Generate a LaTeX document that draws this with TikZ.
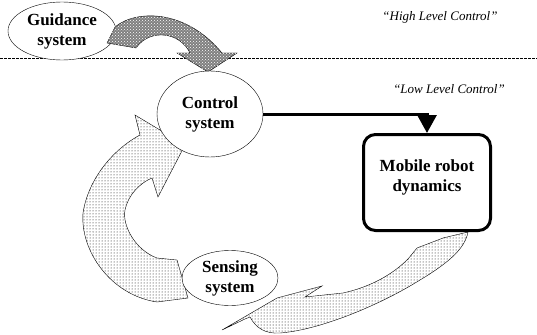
\documentclass[tikz,border=0pt]{standalone}
\usepackage{fontspec}
\setmainfont{Liberation Serif}
\usetikzlibrary{shapes.geometric,arrows.meta,patterns}
\tikzstyle{sysnode} = [draw=black, thin, fill=white, ellipse, inner sep=0pt, align=center, font={\fontsize{17}{20}\selectfont\bfseries}]
\tikzstyle{plant} = [draw=black, line width=3pt, rounded corners=12pt, minimum width=127pt, minimum height=96pt]
\tikzstyle{levelnote} = [font={\fontsize{13}{15}\selectfont\itshape}]
\tikzstyle{highflow} = [draw=black, thin, fill=black!50, postaction={pattern=crosshatch dots, pattern color=white}]
\tikzstyle{loopflow} = [draw=black, thin, fill=white, postaction={pattern=dots, pattern color=black}]
\tikzstyle{cmd} = [line width=3pt, -{Triangle[width=19pt,length=18pt]}]

\begin{document}
\begin{tikzpicture}[x=1pt,y=-1pt]
  \useasboundingbox (0,0) rectangle (537,334);
  \draw[dash pattern=on 2.5pt off 1.5pt, line width=0.7pt] (0,58) -- (537,58);
  \node[sysnode, minimum width=108pt, minimum height=58pt](guid) at (62,31){Guidance\\system};
  \draw[highflow] (115,27) .. controls (135,10) and (185,8) .. (222,53) -- (237,53) -- (208,72)
    -- (177,53) -- (190,53) .. controls (180,32) and (150,28) .. (136,48) -- (107,43) -- cycle;
  \draw[loopflow] (140,135) .. controls (112,150) and (88,180) .. (83,213)
    .. controls (80,250) and (110,295) .. (157,302) -- (188,298) -- (177,260) -- (157,258)
    .. controls (135,250) and (122,225) .. (125,210) .. controls (128,195) and (140,183) .. (152,178)
    -- (158,197) -- (185,145) -- (135,115) -- cycle;
  \draw[loopflow] (468,232) -- (443,238) -- (417,248) -- (408,259) .. controls (392,275) and (370,287) .. (343,293)
    -- (305,297) -- (322,286) -- (277,298) -- (222,330) -- (245,319) -- (250,317)
    .. controls (256,328) and (265,334) .. (280,333)
    .. controls (320,330) and (380,305) .. (420,280) .. controls (450,262) and (465,248) .. (468,232) -- cycle;
  \node[sysnode, minimum width=106pt, minimum height=86pt](ctrl) at (210,114){Control\\system};
  \node[sysnode, minimum width=96pt, minimum height=55pt](sens) at (230,278){Sensing\\system};
  \node[plant](robot) at (427,182.5){};
  \node[sysnode, draw=none, fill=none](robottxt) at (427,177){Mobile robot\\dynamics};
  \node[levelnote](high) at (440,17){“High Level Control”};
  \node[levelnote](low) at (449,89){“Low Level Control”};
  \draw[cmd](ctrl.east) -| (robot.north);
\end{tikzpicture}
\end{document}
